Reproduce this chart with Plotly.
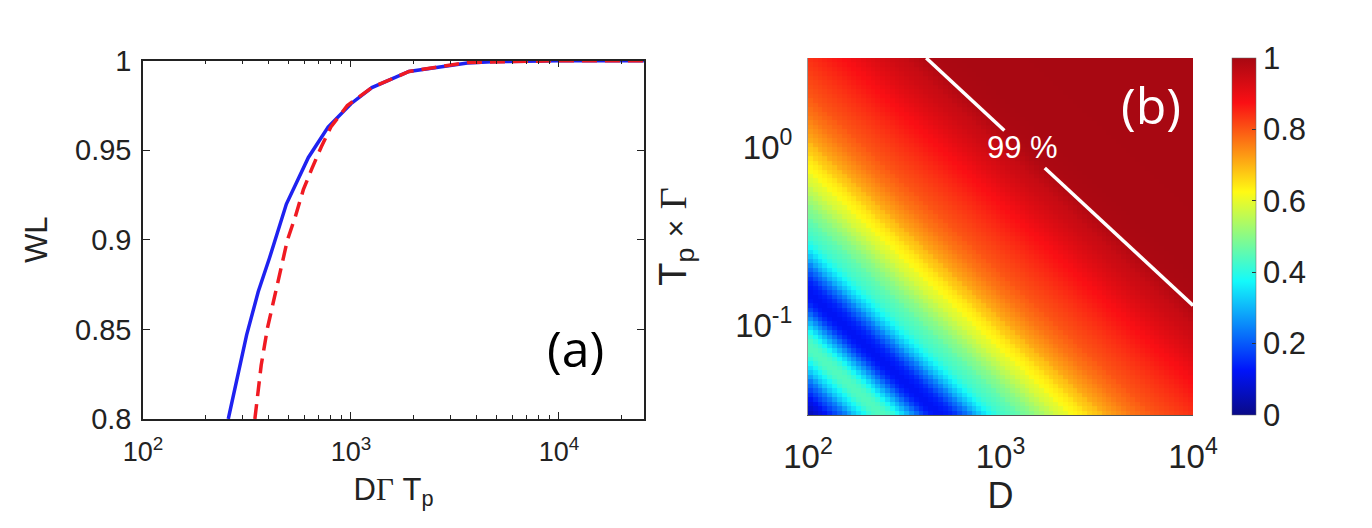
import numpy as np
import plotly.graph_objects as go

# ---------------- panel (a): WL versus D*Gamma*Tp ----------------
blue_x = [257, 315, 358, 406, 489, 624, 776, 1000, 1260, 1900, 3630, 5000, 10000, 25600]
blue_wl = [0.8, 0.847, 0.871, 0.890, 0.920, 0.946, 0.963, 0.976, 0.985, 0.994, 0.9987, 0.9995, 1.0, 1.0]

red_x = [345, 370, 397, 435, 467, 495, 540, 590, 650, 720, 800, 960, 1260, 1900, 3630, 10000, 25600]
red_wl = [0.8, 0.830, 0.851, 0.871, 0.886, 0.900, 0.913, 0.928, 0.940, 0.952, 0.963, 0.975, 0.985, 0.994, 0.999, 1.0, 1.0]

wl_ticks = [0.8, 0.85, 0.9, 0.95, 1]
wl_ticktext = ["0.8", "0.85", "0.9", "0.95", "1"]
prod_ticks = [1e2, 1e3, 1e4]
prod_ticktext = ["10<sup>2</sup>", "10<sup>3</sup>", "10<sup>4</sup>"]

# ---------------- panel (b): WL map over D and Tp*Gamma ----------------
# WL read along the diagonal, log10(D) + log10(Tp*Gamma) = 0.5 ... 4.5, step 0.025
wl_diag = [
    0.04, 0.06, 0.08, 0.10, 0.12, 0.15, 0.18, 0.21, 0.24, 0.28,
    0.32, 0.35, 0.38, 0.41, 0.43, 0.44, 0.44, 0.43, 0.41, 0.38,
    0.34, 0.30, 0.26, 0.22, 0.18, 0.15, 0.13, 0.12, 0.12, 0.13,
    0.14, 0.16, 0.19, 0.22, 0.25, 0.29, 0.32, 0.35, 0.38, 0.40,
    0.42, 0.43, 0.44, 0.45, 0.46, 0.48, 0.49, 0.50, 0.52, 0.53,
    0.55, 0.56, 0.58, 0.59, 0.60, 0.62, 0.63, 0.64, 0.65, 0.67,
    0.68, 0.69, 0.71, 0.72, 0.73, 0.74, 0.75, 0.76, 0.77, 0.775,
    0.785, 0.79, 0.80, 0.805, 0.81, 0.815, 0.82, 0.825, 0.83, 0.835,
    0.84, 0.845, 0.85, 0.855, 0.86, 0.865, 0.87, 0.875, 0.88, 0.888,
    0.895, 0.902, 0.91, 0.916, 0.922, 0.928, 0.935, 0.94, 0.945, 0.95,
    0.955, 0.963, 0.97, 0.977, 0.984, 0.99, 0.992, 0.994, 0.995, 0.996,
    0.997, 0.997, 0.998, 0.998, 0.999, 0.999, 0.999, 0.999, 0.999, 0.999,
    0.999, 0.999, 0.999, 0.999, 0.999, 0.999, 1.0, 1.0, 1.0, 1.0,
    1.0, 1.0, 1.0, 1.0, 1.0, 1.0, 1.0, 1.0, 1.0, 1.0,
    1.0, 1.0, 1.0, 1.0, 1.0, 1.0, 1.0, 1.0, 1.0, 1.0,
    1.0, 1.0, 1.0, 1.0, 1.0, 1.0, 1.0, 1.0, 1.0, 1.0,
    1.0,
]
D_range_log = [2, 4]          # D from 1e2 to 1e4
TpG_range_log = [-1.5, 0.5]   # Tp*Gamma from ~0.03 to ~3
wl99_product = 1300           # D*Tp*Gamma where WL reaches 99 %

D_ticks = [1e2, 1e3, 1e4]
D_ticktext = ["10<sup>2</sup>", "10<sup>3</sup>", "10<sup>4</sup>"]
TpG_ticks = [0.1, 1]
TpG_ticktext = ["10<sup>-1</sup>", "10<sup>0</sup>"]

cbar_ticks = [0, 0.2, 0.4, 0.6, 0.8, 1]
cbar_ticktext = ["0", "0.2", "0.4", "0.6", "0.8", "1"]

# ---------------- build heatmap grid ----------------
n_cells = 80
x_edges = np.logspace(D_range_log[0], D_range_log[1], n_cells + 1)
y_edges = np.logspace(TpG_range_log[0], TpG_range_log[1], n_cells + 1)
ii = np.arange(n_cells)
diag_idx = ii[None, :] + ii[:, None] + 1
z = np.array(wl_diag)[diag_idx]

jet_like = [
    [0.0, "rgb(10,10,135)"],
    [0.125, "rgb(0,20,250)"],
    [0.375, "rgb(20,250,250)"],
    [0.625, "rgb(255,250,20)"],
    [0.875, "rgb(250,15,20)"],
    [1.0, "rgb(168,8,18)"],
]

FONT = "Liberation Sans, Arial, sans-serif"
GAMMA = '<span style="font-family:Liberation Serif">Γ</span>'

fig = go.Figure()

fig.add_trace(go.Scatter(
    x=blue_x, y=blue_wl, mode="lines",
    line=dict(color="#1f22f0", width=3.5),
    showlegend=False, hoverinfo="skip",
    xaxis="x", yaxis="y",
))
fig.add_trace(go.Scatter(
    x=red_x, y=red_wl, mode="lines",
    line=dict(color="#f01a22", width=3.5, dash="15px,8px"),
    showlegend=False, hoverinfo="skip",
    xaxis="x", yaxis="y",
))

fig.add_trace(go.Heatmap(
    x=x_edges, y=y_edges, z=z,
    zmin=0, zmax=1, colorscale=jet_like,
    xaxis="x2", yaxis="y2",
    hoverinfo="skip",
    colorbar=dict(
        x=0.892, xanchor="left", y=0.5672, yanchor="middle",
        len=0.676, lenmode="fraction", ypad=0, xpad=0,
        thickness=24, thicknessmode="pixels",
        tickvals=cbar_ticks, ticktext=cbar_ticktext,
        ticks="inside", ticklen=4, tickcolor="#333",
        tickfont=dict(family=FONT, size=31, color="#222"),
        outlinewidth=0.5, outlinecolor="#666",
    ),
))

# 99 % contour (constant D*Tp*Gamma), gap left for its label
gap_lo, gap_hi = 10 ** 3.02, 10 ** 3.23
line_x = [wl99_product / 10 ** TpG_range_log[1], gap_lo, None, gap_hi, 10 ** D_range_log[1]]
line_y = [wl99_product / v if v else None for v in line_x]
fig.add_trace(go.Scatter(
    x=line_x, y=line_y, mode="lines",
    line=dict(color="white", width=3.5),
    showlegend=False, hoverinfo="skip",
    xaxis="x2", yaxis="y2", cliponaxis=True,
))

axis_common = dict(
    showgrid=False, zeroline=False, automargin=False,
    tickfont=dict(family=FONT, color="#222"),
)

fig.update_layout(
    template="none",
    width=1372, height=528,
    margin=dict(l=0, r=0, t=0, b=0, pad=0, autoexpand=False),
    paper_bgcolor="white", plot_bgcolor="white",
    font=dict(family=FONT, color="#222"),
    xaxis=dict(
        **axis_common,
        domain=[0.0984, 0.4636], anchor="y",
        type="log", range=[2, 4.409],
        tickvals=prod_ticks, ticktext=prod_ticktext,
        showline=True, linecolor="#222", linewidth=1.5, mirror="ticks",
        ticks="inside", ticklen=7, tickcolor="#222",
        minor=dict(ticks="inside", ticklen=4, dtick="D1", tickcolor="#222", showgrid=False),
        ticklabelstandoff=8,
        title=dict(text="D" + GAMMA + " T<sub>p</sub>", font=dict(size=31), standoff=12),
    ),
    yaxis=dict(
        **axis_common,
        domain=[0.2216, 0.9002], anchor="x",
        range=[0.8, 1],
        tickvals=wl_ticks, ticktext=wl_ticktext,
        showline=True, linecolor="#222", linewidth=1.5, mirror="ticks",
        ticks="inside", ticklen=7, tickcolor="#222",
        ticklabelstandoff=4,
        title=dict(text="WL", font=dict(size=31), standoff=18),
    ),
    xaxis2=dict(
        **axis_common,
        domain=[0.5831, 0.8637], anchor="y2",
        type="log", range=D_range_log,
        tickvals=D_ticks, ticktext=D_ticktext,
        showline=True, linecolor="#555", linewidth=1,
        ticks="", ticklabelstandoff=12,
        title=dict(text="D", font=dict(size=36), standoff=6),
    ),
    yaxis2=dict(
        **axis_common,
        domain=[0.2292, 0.9053], anchor="x2",
        type="log", range=TpG_range_log,
        tickvals=TpG_ticks, ticktext=TpG_ticktext,
        showline=True, linecolor="#999", linewidth=1,
        ticks="", ticklabelstandoff=8,
        title=dict(text="T<sub>p</sub> <span style='font-size:30px'>×</span> " + GAMMA,
                   font=dict(size=38), standoff=36),
    ),
)
fig.update_xaxes(tickfont_size=27, selector=dict(anchor="y"))
fig.update_yaxes(tickfont_size=29, selector=dict(anchor="x"))
fig.update_xaxes(tickfont_size=33, selector=dict(anchor="y2"))
fig.update_yaxes(tickfont_size=33, selector=dict(anchor="x2"))

fig.add_annotation(
    x=np.log10(10 ** 3.115), y=np.log10(wl99_product / 10 ** 3.115),
    xref="x2", yref="y2", text="99 %", showarrow=False,
    font=dict(family=FONT, size=31, color="white"),
)
fig.add_annotation(
    x=1143 / 1372, y=1 - 97 / 528, xref="paper", yref="paper",
    xanchor="center", yanchor="middle",
    text="(b)", showarrow=False,
    font=dict(family="Open Sans", size=50, color="white"),
)
fig.add_annotation(
    x=567 / 1372, y=1 - 340 / 528, xref="paper", yref="paper",
    xanchor="center", yanchor="middle",
    text="(a)", showarrow=False,
    font=dict(family="Open Sans", size=50, color="black"),
)

fig.write_html("out.html")
